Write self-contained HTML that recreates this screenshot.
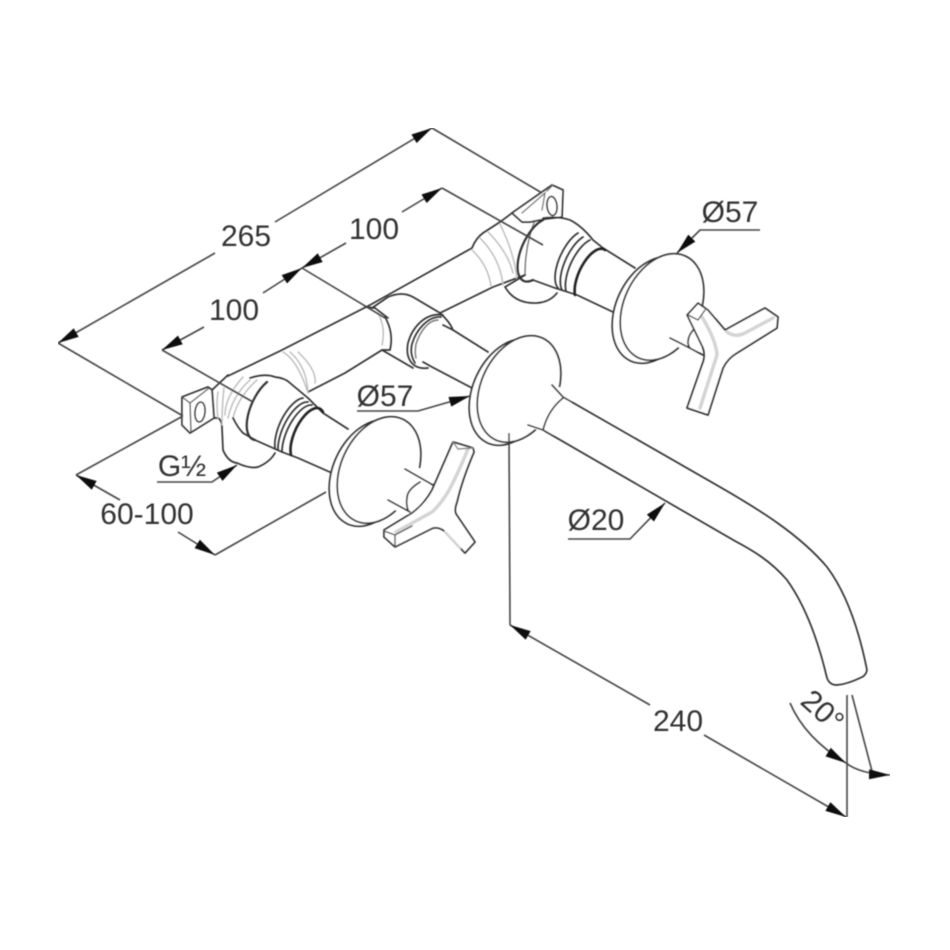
<!DOCTYPE html>
<html><head><meta charset="utf-8"><style>
html,body{margin:0;padding:0;background:#fff}
svg{display:block}
text{font-family:"Liberation Sans",sans-serif;font-size:30px;fill:#333}
.d{stroke:#444;stroke-width:1.6;fill:none}
.o{stroke:#333;stroke-width:1.8;fill:#fff;stroke-linejoin:round;stroke-linecap:round}
.n{stroke:#333;stroke-width:1.7;fill:none;stroke-linecap:round;stroke-linejoin:round}
.t{stroke:#222;stroke-width:2.6;fill:none;stroke-linecap:round}
.m{stroke:#777;stroke-width:1.4;fill:none;stroke-linecap:round}
.g{stroke:#bbb;stroke-width:1.4;fill:none;stroke-linecap:round}
.w{stroke:#d4d4d4;stroke-width:3.5;fill:none;stroke-linecap:round;stroke-linejoin:round}
</style></head><body>
<svg width="950" height="950" viewBox="0 0 950 950" xmlns="http://www.w3.org/2000/svg">
<defs>
<marker id="a" markerUnits="userSpaceOnUse" markerWidth="22" markerHeight="12" refX="21" refY="6" orient="auto-start-reverse"><path d="M0,1 L21,6 L0,11 z" fill="#111"/></marker>
<filter id="b" x="0" y="0" width="100%" height="100%"><feGaussianBlur stdDeviation="0.5"/></filter>
<g id="disc">
<ellipse class="o" cx="511" cy="392" rx="38" ry="56" transform="rotate(25 511 392)"/>
<ellipse class="o" cx="519" cy="389" rx="38" ry="56" transform="rotate(25 519 389)"/>
<path d="M553,384 L575,395 L555,435 L531,428 Z" fill="#fff"/>
</g>
</defs>
<g filter="url(#b)">

<!-- main pipes -->
<path class="n" d="M228,376 L280,351 L370,305 L472,248 Q476,238 483,233 L500,222 L512,213"/>
<path class="n" d="M308,392 L345,373 L382,350 M440,313 L493,287 L525,275"/>
<path class="g" d="M283,352 Q297,360 307,390 M290,352 Q307,367 308,393 M298,352 Q317,370 315,383"/>
<path class="g" d="M472,250 Q488,265 491,286 M480,238 Q500,258 503,285 M488,232 Q508,252 513,273 M500,224 Q515,255 517,280"/>
<path class="m" d="M535,220 Q525,245 525,275"/>

<!-- right plate -->
<path class="o" d="M512,213 L552,185 L563,190 L562,217 L545,219 L530,222 L522,222 Z"/>
<path class="m" d="M522,213 L545,193 L542,210 M547,191 L553,185"/>
<ellipse class="n" cx="552" cy="206" rx="5" ry="9.5" transform="rotate(-6 552 206)"/>

<!-- right body -->
<path class="n" d="M505,287 Q515,304 537,303 Q550,302 557,293 M525,275 L505,287"/>
<path d="M543,220 A16,34 25 0 0 533,280" class="n" style="stroke-width:2.2"/>
<path class="n" d="M543,218 Q558,216 570,220 Q582,226 593,240 L603,248 L635,268"/>
<path class="n" d="M533,280 L555,288 L577,295 L613,312"/>
<path class="n" d="M578,233 A14,32 25 0 0 558,288"/>
<path class="n" d="M583,237 A14,32 25 0 0 562,290"/>
<path class="n" d="M590,240 A14,32 25 0 0 566,291"/>
<path class="t" d="M605,250 A13,29 25 0 0 575,295"/>

<!-- middle connector -->
<path class="n" d="M365,307 L375,308 L388,318"/>
<path class="g" d="M378,313 Q386,328 382,345"/>
<path class="n" d="M385,317 Q394,333 390,350 L382,350 L413,368"/>
<path class="n" d="M372,308 L388,297 Q402,291 413,297 L440,313 Q450,322 453,330 L488,352"/>
<path class="n" d="M443,315 C425,312 412,328 408,343 C405,358 412,370 428,368 M423,362 L432,367 L472,388"/>
<path class="n" d="M441,317 C428,316 416,330 412,344 C410,352 412,358 415,363"/>
<path class="m" d="M438,320 C428,320 420,332 416,344 C415,350 415,354 416,358"/>
<path class="n" d="M443,325 L453,330"/>

<!-- left plate / elbow -->
<path class="n" d="M214,418 L218,418 Q222,420 222,428 L223,450 Q228,462 237,463 Q250,469 258,467 Q270,462 275,453"/>
<path class="o" d="M182,397 L208,387 L212,390 L214,418 L190,433 L182,425 Z"/>
<path class="m" d="M190,403 L208,389 M190,403 L191,431 M182,397 L190,403" style="stroke:#555"/>
<ellipse class="n" cx="200" cy="412" rx="5" ry="10" transform="rotate(6 200 412)"/>
<path class="n" d="M212,390 L228,375"/>
<path class="g" d="M218,392 Q216,405 218,418 M224,388 Q222,405 222,425 M243,377 Q225,397 225,415 M250,380 Q233,395 228,418 M257,380 Q238,397 233,418"/>

<!-- left body -->
<path class="n" d="M250,378 Q265,373 275,377 Q285,378 290,383 L308,398 L323,413 L348,429"/>
<path class="n" d="M267,382 A16,34 25 0 0 255,440" style="stroke-width:2.2"/>
<path class="n" d="M233,418 Q238,428 243,433 L255,440 L282,452 L298,458 L332,473"/>
<path class="n" d="M303,398 A14,32 25 0 0 275,448"/>
<path class="n" d="M308,402 A14,32 25 0 0 278,450"/>
<path class="n" d="M312,405 A14,32 25 0 0 282,452"/>
<path class="t" d="M323,412 A13,29 25 0 0 291,455"/>

<!-- discs -->
<use href="#disc"/>
<use href="#disc" transform="translate(143,-82)"/>
<use href="#disc" transform="translate(-140,81)"/>

<!-- spout -->
<path class="n" d="M552,385 L563,397 L720,487 C760,510 800,535 827,567 C848,595 860,635 867,670 Q866,676 860,678 Q845,685 835,685 Q829,684 827,678 C818,640 805,605 787,580 C770,560 750,549 735,541 L543,430 L528,425"/>
<path class="n" d="M563,398 Q548,410 543,430"/>

<!-- left stem and handle -->
<path class="n" d="M405,469 L433,485 M388,500 L410,512"/>
<path class="n" d="M420,482 Q407,490 407,498 Q406,505 408,510"/>
<path class="o" d="M453,442 L473,448 L474,452 Q462,480 457,502 Q454,510 456,514 L475,542 L465,553 L443,530 Q438,527 433,528 L395,547 L384,537 L384,530 L412,513 Q425,503 432,490 Z"/>
<path class="w" d="M468,449 Q456,478 448,492 Q440,505 432,512 L396,532"/>
<path class="w" d="M445,532 L460,548" style="stroke-width:2.5"/>
<path class="m" d="M384,531 L395,535 L395,547 M395,535 L412,526" style="stroke:#555"/>
<path class="m" d="M453,442 L458,449 L473,448" style="stroke:#888"/>

<!-- right stem and handle -->
<path class="n" d="M670,338 L680,343 L703,355"/>
<path class="n" d="M695,328 Q688,335 688,342 Q688,346 690,348"/>
<path class="o" d="M698,303 L708,310 L725,330 L765,308 L778,317 L777,328 L737,353 Q728,358 723,368 L708,415 L687,408 L702,365 Q706,356 703,348 L687,315 Z"/>
<path class="w" d="M702,317 Q716,340 717,355 L700,408"/>
<path class="w" d="M727,332 Q735,338 745,333 L773,318"/>
<path class="m" d="M688,315 L698,320 L705,310" style="stroke:#555"/>

<!-- dimension lines -->
<path class="d" d="M215,253 L58,343" marker-end="url(#a)"/>
<path class="d" d="M275,222 L432,128" marker-end="url(#a)"/>
<path class="d" d="M432,128 L542,193"/>
<path class="d" d="M58,343 L183,416"/>
<path class="d" d="M346,243 L302,268" marker-end="url(#a)"/>
<path class="d" d="M402,212 L442,188" marker-end="url(#a)"/>
<path class="d" d="M442,188 L543,245"/>
<path class="d" d="M302,268 L385,318"/>
<path class="d" d="M204,327 L162,350" marker-end="url(#a)"/>
<path class="d" d="M263,293 L302,268" marker-end="url(#a)"/>
<path class="d" d="M162,350 L253,402"/>
<path class="d" d="M120,500 L76,475" marker-end="url(#a)"/>
<path class="d" d="M178,532 L215,555" marker-end="url(#a)"/>
<path class="d" d="M76,475 L183,416"/>
<path class="d" d="M215,555 L326,492"/>
<path class="d" d="M157,482 L212,482 L237,465" marker-end="url(#a)"/>
<path class="d" d="M357,411 L418,411 L470,396" marker-end="url(#a)"/>
<path class="d" d="M760,230 L700,230 L677,253" marker-end="url(#a)"/>
<path class="d" d="M568,539 L630,539 L665,503" marker-end="url(#a)"/>
<path class="d" d="M509,433 L510,625"/>
<path class="d" d="M650,705 L510,625" marker-end="url(#a)"/>
<path class="d" d="M704,735 L846,817" marker-end="url(#a)"/>
<path class="d" d="M847,695 L847,817"/>
<path class="d" d="M852,695 L873,775"/>
<path class="d" d="M790,703 Q805,738 846,763" marker-end="url(#a)"/>
<path class="d" d="M846,763 Q860,774 890,775" marker-end="url(#a)"/>

<!-- labels -->
<text x="246" y="246" text-anchor="middle">265</text>
<text x="374" y="239" text-anchor="middle">100</text>
<text x="234" y="320" text-anchor="middle">100</text>
<text x="147" y="524" text-anchor="middle">60-100</text>
<text x="182" y="476" text-anchor="middle">G½</text>
<text x="385" y="406" text-anchor="middle">Ø57</text>
<text x="730" y="222" text-anchor="middle">Ø57</text>
<text x="596" y="530" text-anchor="middle">Ø20</text>
<text x="678" y="731" text-anchor="middle">240</text>
<text transform="translate(799,703) rotate(42)">20°</text>
</g>
</svg>
</body></html>
